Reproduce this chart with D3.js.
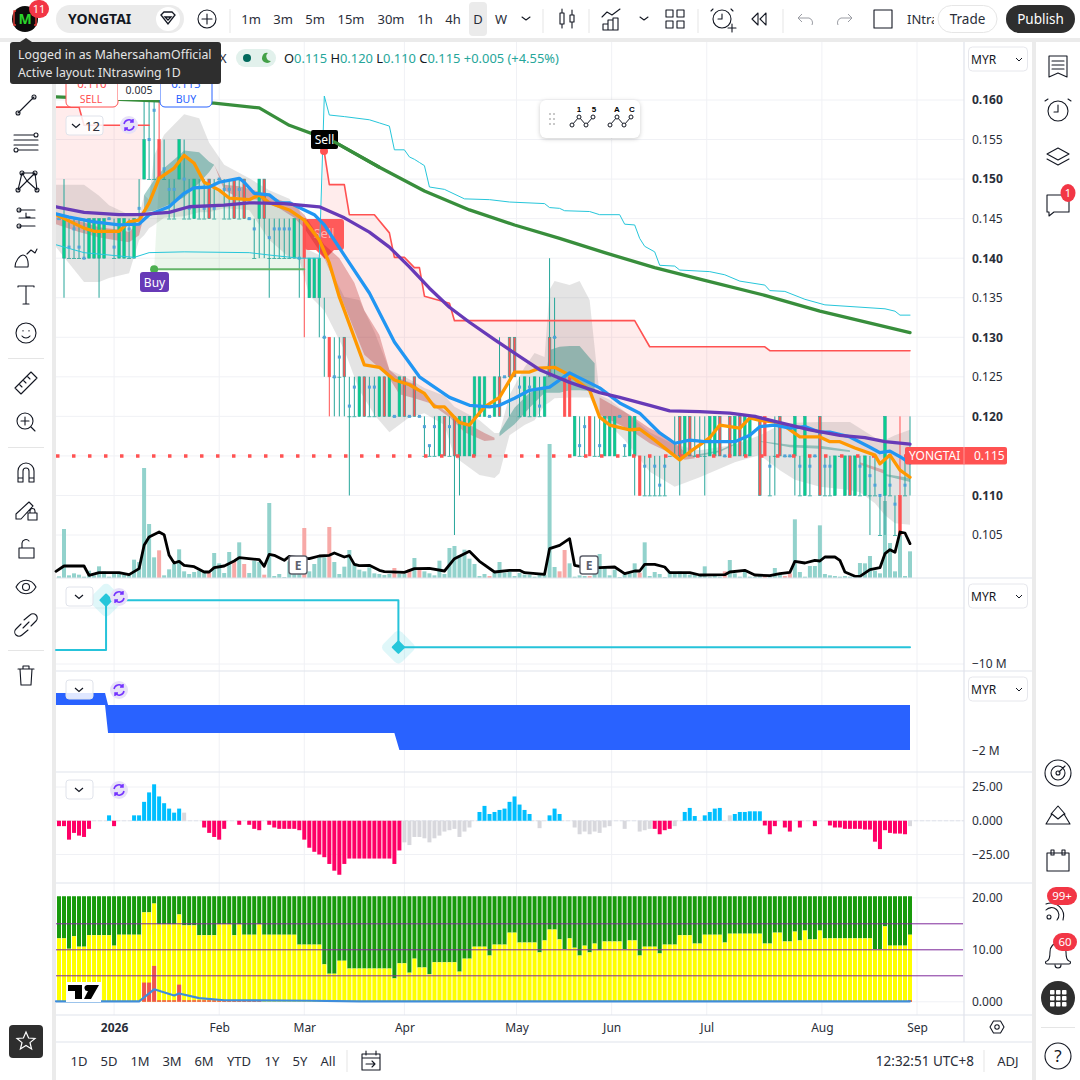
<!DOCTYPE html>
<html lang="en">
<head>
<meta charset="UTF-8">
<title>YONGTAI 1D</title>
<script src="https://cdnjs.cloudflare.com/ajax/libs/d3/7.8.5/d3.min.js"></script>
<style>
  html, body { margin: 0; padding: 0; background: #fff; overflow: hidden; }
  svg { display: block; font-family: "Noto Sans", "Open Sans", sans-serif; }
  .axis .domain, .axis line { display: none; }
  .axis text { font-family: "Noto Sans", sans-serif; font-size: 12px; fill: #2a2e39; }
</style>
</head>
<body>
<div id="chart"></div>
<script>
// prices are in thousandths of a ringgit, bar index 0 is the first bar on the left
const highs = [
  145,150,145,145,145,145,145,145,145,145, 145,145,145,145,145,145,150,160,160,160,
  160,155,150,150,155,155,150,150,150,150, 150,150,150,150,150,150,150,150,145,145,
  150,150,145,145,145,145,145,145,145,145, 140,140,140,135,130,130,130,130,125,125,
  125,125,125,125,125,125,125,120,125,125, 120,125,120,120,116.3,120,120,120,120,120,
  120,120,120,125,125,125,120,125,130,125, 130,130,125,125,125,125,125,125,140,135,
  125,125,125,120,120,120,120,120,120,120, 120,120,120,116.3,120,120,115,115,115,115,
  115,115,115,120,120,120,120,120,120,120, 120,120,120,115,120,120,120,120,120,120,
  120,120,115,120,120,115,115,120,115,120, 115,115,120,115,115,115,115,115,115,115,
  115,115,115,115,110,120,115,110,120,115, 120];
const lows = [
  145,135,140,140,140,140,140,140,135,140, 145,140,140,140,140,140,145,150,150,150,
  150,150,145,145,150,145,145,145,145,145, 145,145,150,145,145,145,145,145,145,140,
  140,140,135,140,140,140,140,140,135,130, 135,135,130,125,120,120,120,120,110,120,
  120,120,120,120,120,120,120,120,120,120, 120,120,120,115,115,115,115,115,115,105,
  110,115,115,115,120,120,120,120,120,125, 120,125,120,120,120,120,120,120,125,125,
  125,120,120,115,115,115,115,115,115,115, 115,115,120,115,115,110,110,110,110,110,
  110,110,115,115,110,115,115,115,115,110, 115,115,115,115,115,115,115,115,115,120,
  110,115,110,110,115,115,115,110,110,110, 110,115,110,110,110,110,115,110,110,110,
  110,110,105,110,105,105,110,105,105,110, 110];
const opens = [
  145,140,140,140,140,140,140,140,140,140, 145,140,140,140,140,140,145,150,150,150,
  155,150,145,145,150,145,145,145,145,145, 150,145,150,145,145,150,145,150,145,140,
  145,150,140,140,140,140,140,140,140,145, 135,135,135,130,130,125,125,130,120,120,
  120,125,120,120,120,125,120,120,120,125, 120,125,120,115,115,115,115,120,115,120,
  115,115,115,115,120,120,120,120,125,125, 130,130,120,120,120,120,120,120,130,130,
  125,125,125,115,115,115,120,115,115,115, 115,115,120,115,115,115,115,110,110,110,
  110,110,115,115,120,115,120,115,115,115, 115,115,120,115,120,115,120,115,115,120,
  120,120,110,115,120,115,115,115,110,110, 110,115,120,110,110,110,115,110,115,110,
  110,110,110,110,105,110,110,105,110,110, 115];
const closes = [
  145,145,140,140,140,140,145,145,145,145, 145,140,145,145,140,145,145,155,150,150,
  150,150,145,145,155,145,145,150,145,145, 145,145,150,145,145,145,145,145,145,140,
  150,145,140,140,140,140,140,145,140,140, 140,140,140,130,125,125,125,125,120,120,
  125,120,120,120,125,120,125,120,125,120, 120,120,120,115,115,115,120,115,115,115,
  120,120,120,125,125,125,120,125,120,125, 125,125,120,125,120,125,120,125,125,130,
  125,120,120,120,115,115,115,115,115,120, 120,120,120,115,120,120,110,110,110,110,
  110,110,115,115,115,120,115,115,115,115, 120,120,115,115,115,120,115,120,120,120,
  110,115,110,115,115,115,115,120,110,120, 110,115,110,110,110,115,115,115,110,115,
  110,115,110,110,105,120,110,105,105,110, 115];
const n = null;
const dotValues = [
  145,n,141.4,143.7,141.4,140,n,n,n,n, 145,141.4,n,n,143.7,n,146.3,n,155,158.7,
  n,151.3,148.7,148.7,n,150,146.3,n,n,146.3, n,146.3,150,148.7,148.7,n,148.7,n,145,143.7,
  n,n,142.6,143.7,143.7,143.7,143.7,n,140,n, n,n,n,130,n,125,127.5,n,121.3,123.7,
  n,n,123.7,123.7,n,n,n,120,n,n, 120,n,120,118.7,116.3,118.7,n,n,118.7,n,
  n,n,n,n,n,n,120,n,n,125, n,n,123.7,n,123.7,n,121.3,n,n,130,
  n,n,n,n,116.3,118.7,n,n,116.3,n, n,n,120,116.3,n,n,n,113.7,n,113.7,
  111.3,113.7,n,n,n,n,n,n,n,n, n,n,n,115,n,n,n,n,n,120,
  n,n,113.7,n,n,115,115,n,113.7,n, 113.7,115,n,113.7,113.7,n,n,n,n,n,
  113.7,n,112.5,111.3,110,n,111.3,108.9,n,111.3, n];
// red candles drawn without the teal edge
const plainRed = [20,49,54,101,102,106,116,141,168];
const lastPrice = 115;

// volume in chart units, the red ones are listed by bar
const volumes = [
  5,147,8,14,10,4,22,8,35,20, 4,15,12,10,12,55,48,330,162,62,
  83,8,26,42,86,20,12,18,22,22, 15,75,44,15,78,50,107,42,15,52,
  48,10,225,6,12,3,50,30,25,150, 20,42,62,62,153,48,12,34,84,45,
  25,20,32,14,12,9,12,30,12,12, 26,60,26,20,14,8,52,12,90,96,
  68,85,58,42,6,12,6,15,48,16, 18,6,15,10,10,4,10,10,402,33,
  20,84,44,4,8,6,6,14,72,30, 8,25,3,12,14,44,16,107,6,18,
  12,3,20,15,20,15,10,10,6,35, 4,6,4,20,54,14,4,20,4,4,
  8,6,8,30,14,6,14,176,18,4, 36,36,158,12,8,6,4,6,4,8,
  45,44,66,22,14,231,105,20,135,6, 80];
const volumeDown = [20,30,35,37,41,49,54,67,70,72,86,100,101,106,116,133,141,145,146];
const volMaIdx = [-0.6,1,5,6,8,12,14,16,17,18,20,21,22,23,24,25,27,29,30,31,33,35,36,40,41,42,43,45,46,48,50,52,54,55,57,58,59,60,62,64,65,69,71,74,77,79,82,84,87,90,92,93,97,98,100,102,103,104,108,111,113,115,116,117,119,121,122,126,128,133,134,137,139,142,144,146,147,149,151,152,153,155,156,157,159,160,162,164,165,166,167,168,169,170];
const volMaVal = [20,36,36,8,16,16,10,28,98,123,138,130,68,45,50,38,34,18,18,31,36,51,61,55,35,71,68,53,65,60,58,66,68,75,63,67,41,37,38,23,19,17,28,29,21,58,80,50,18,23,23,16,11,88,98,118,38,35,31,33,13,21,21,41,41,33,16,16,9,10,18,23,9,7,13,17,50,45,53,51,63,63,53,18,5,5,25,31,73,85,77,138,135,103];

// overlay lines
const maLongIdx = [-0.6,31,40,46,55,64,73,82,91,100,109,119,129,141,152,170];
const maLongVal = [160.4,159.6,159,156.8,154.7,151.5,148.5,146.1,144.2,142.5,140.7,138.8,137.2,135.3,133.3,130.6];
const trailIdx = [-0.6,5,15,18,25,38,42,48,52,53,54,57,62,64,66,67,69,70,71,72,73,74,77,81,86,90,97,98,100,101,106,108,112,113,115,116,117,119,120,123,124,130,133,136,141,142,145,149,153,165,167,168,170];
const trailVal = [141.7,140.7,140.1,140.7,140.8,140.7,140.4,140,140,160.5,158.1,157.9,157.5,157.1,156.7,153.7,153.7,152.8,152.5,152.1,151.7,149,148.7,147.5,147.4,147.1,146.9,146.4,146.3,146,145.9,145.5,145.5,144.3,144.2,142.5,141.5,140.8,139.1,139,138.5,138.3,137.9,137.1,136.6,135.9,135.8,134.8,134.1,133.6,133.3,132.8,132.8];
const purpleIdx = [-0.6,5,12,16,22,26,33,38,45,52,57,62,66,70,74,78,82,87,91,96,102,108,112,118,122,128,134,139,144,150,156,161,165,170];
const purpleVal = [146.5,145.8,145.5,145.5,145.8,146.5,146.7,147,146.9,146.5,145.1,143.3,141.4,138.9,136.2,133.8,131.9,129.7,128,125.9,124.3,123,122.4,121.4,120.7,120.6,120.4,120,119.2,118.3,117.6,117.3,116.8,116.5];
const blueIdx = [-0.6,2,7,12,16,18,22,25,27,30,32,36,37,39,42,44,46,51,53,58,62,67,72,78,82,86,88,91,94,98,102,108,112,116,120,123,126,129,135,138,140,143,146,149,152,154,158,162,164,166,168,170];
const blueVal = [145.6,145.2,144.6,144.2,144.3,145.5,146.5,148.2,148.9,149,149.6,150.1,149.6,148.2,148,147,147,145.5,144.2,139.4,135.6,129.4,125,122.4,121.4,121.2,121.4,122.3,123.3,123.7,125.5,123.6,121.7,120.4,117.9,116.6,117,116.8,116.8,117.6,118.7,118.9,118.5,118.7,118,118,117.4,116.1,115.4,115.6,114.9,114.1];
const orangeIdx = [-0.6,3,5,7,12,14,16,18,20,23,25,27,29,32,34,38,40,42,46,49,52,54,56,57,61,64,67,70,73,75,77,80,82,85,88,91,94,96,99,102,106,108,110,114,116,119,124,126,128,130,132,136,138,140,144,148,152,154,156,159,163,164,166,168,170];
const orangeVal = [145.5,144.4,143.8,143.4,143.4,144.6,144.8,147,150.1,151.4,153,152,149.6,148.6,147.6,147.4,148,147,146.1,144.8,142.3,139.4,135.1,133.4,126.5,126.2,124.6,124,122.9,121.2,121.2,119.2,118.9,121.2,122.4,125.6,125.6,126.1,126.2,125.2,123.3,119.9,118.9,118.3,118.4,117,114.5,115.5,116.4,117.3,118.9,118.5,119.8,119.5,119.2,117.4,117.4,116.8,116.8,116,115.1,114,115.1,113.2,112.3];

// stop lines
const stopLeftIdx = [-0.6,4,5,18];
const stopLeftVal = [159.1,159.1,156.8,156.8];
const stopRightIdx = [53,54,57,58,63,66,67,69,71,72,73,78,79,115,118,141,142,170];
const stopRightVal = [153.4,149.3,149.3,145.5,145.5,143.2,140.1,140.1,138.8,138.8,135.2,134.3,132.1,132.1,128.8,128.8,128.3,128.3];
const buyStopIdx = [19,49];
const buyStopVal = [138.6,138.6];

// grey band
const cloudIdx = [-0.6,5,8,10,14,16,17,18,19,21,25,28,30,33,38,42,46,48,50,53,57,60,63,66,70,73,77,79,84,87,88,90,93,95,97,98,99,102,104,106,108,110,113,118,123,128,135,140,144,147,152,158,160,163,165,167,170];
const cloudHi = [149.3,149.3,147.9,146.7,145.5,145.2,148,147.4,153,155.6,158.2,157.7,154.6,151.8,150.1,148.6,147.5,146.1,141,140.1,135.1,134.7,130.7,125.9,124.7,123.6,122.6,121.2,119.5,117.9,117.9,122.7,126.2,128,127.5,136,137.1,136.6,137.1,134.7,122.7,122.1,120.6,118,116.4,115.7,116.4,117.6,118.9,119.2,119.3,119.3,118.5,117.3,117,117.6,118.3];
const cloudLo = [141.4,137,137,137.5,138.1,142.3,142.9,143.8,144.2,145.1,145.3,145.8,145.8,146.3,146.1,142.3,140.1,139.8,135.3,133.4,128.4,123.3,120.2,118,119.9,120.4,118.9,114.9,112.6,112.2,112.8,117.6,118.9,119.5,121.4,121.8,122.3,122.4,122.4,122.4,120.2,118.9,117,113,111.1,112.3,114.2,115.1,113.2,112,111.1,110.7,110.4,109,107.5,106.5,106.3];

// ribbon pieces as [bar, top, bottom]
const ribbonDown = [
  [[-0.6,145.2,144.3],[4,144.7,143.3],[8,143.9,142.6],[12,143.6,142.2],[14,143.3,142],[16,144.6,142.9],[17,145.5,145.5]],
  [[31,151.8,151.8],[33,149.3,148.6],[36,149.1,147.6],[40,148.4,147.4],[44,147.4,146.3],[47,146.7,145.1],[49,145.5,143.8],[53,141.7,140],[56,140,135.6],[59,136.9,130.9],[61,133.4,127.8],[64,130.3,126.1],[66,125.9,124.8],[68,124.8,122.8],[71,124.1,122.3],[74,122.1,121.7],[78,120.3,119.9],[81,119.3,118],[85,117.9,116.9],[87,117.3,117]],
  [[108,122.4,120.2],[114,120.2,118.3],[118,118.5,116.6],[122,117.3,115.4],[125,115.5,114.5],[127,115,114.7]],
  [[160,114.2,113.9],[165,113.2,112.7]]
];
const ribbonUp = [
  [[17,148,145.8],[19,149.9,146],[21,151.4,146.5],[24,153,147.4],[25,153.6,147.7],[28,153.4,149.5],[30,152.2,150.9],[31,151.8,151.8]],
  [[88,118,117.5],[91,121.1,119],[94,123,121.1],[97,123.7,123],[98,128.4,123],[100,128.8,123],[102,128.9,123.3],[104,128.9,123.3],[106,127.4,123.2],[107,126.7,123.1]],
  [[127,115.1,114.9],[132,115.7,115.5],[135,116.6,116.4]],
  [[140,116.9,116.8],[146,116.4,116.1],[152,116.3,115.9],[158,115.7,115.5]],
  [[165,112.7,112.5],[170,112.2,111.7]]
];

// lower panes
const flowIdx = [-0.6,9.4,9.4,67.8,67.8,170];
const flowVal = [-7.5,-7.5,1.4,1.4,-7,-7];
const flowMarks = [[9.4,1.4],[67.8,-7]];
const netIdx = [-0.6,9.2,9.8,67,68,170];
const netHi = [0.52,0.52,0,0,0,0];
const netLo = [0,0,-1.22,-1.22,-1.96,-1.96];
const histValues = [
  -4,-4,-14,-9,-11,-12,-6,0,0,0, 4,-4,0,0,0,4,4,14,21,27,
  18,13,9,6,9,6,0,0,0,-5, -9,-12,-14,-6,0,0,-3,0,-3,-6,
  -7,0,-3,-5,-6,-6,-6,-6,-7,-14, -20,-23,-25,-27,-32,-37,-40,-32,-28,-28,
  -28,-28,-28,-28,-28,-28,-28,-32,-22,-16, -18,-12,-12,-13,-16,-13,-11,-8,-7,-6,
  -12,-8,-5,0,6.5,11,5,6.5,8,9, 14,18,12,8,5,0,-5.5,0,4,9,
  5,0,0,-5,-10,-8,-10,-8,-9,-5, -4,0,0,-6,0,0,-8,-7,-6,-6,
  -10,-7,-6,-4,0,6.5,9.5,3.5,0,4, 6.5,9,9.5,0,4,5,6.5,6.5,7,7,
  7,-3.5,-10,-4,0,-5,-8,0,-5,0, 0,-4,0,0,-3.5,-5,-5,-6,-6,-6,
  -6,-6.5,-6.5,-15.5,-21,-7,-9,-9.5,-9.5,-10, -4];
const histFlat = [25,69,70,71,72,73,74,75,76,77,78,79,80,81,82,96,103,104,105,106,107,108,109,110,113,116,117,118,123,134,170];
const stackTop = 20.3;
const yellowValues = [
  12.2,12.2,10.2,12.6,10.6,10.6,12.8,12.8,12.8,12.8, 12.8,10.8,12.9,12.9,12.9,12.9,12.9,17.2,17.2,18.9,
  14.9,14.9,14.9,14.9,16.8,14.7,14.7,14.7,12.8,12.8, 12.8,12.8,14.9,14.9,14.9,12.8,14.9,12.9,12.9,12.9,
  14.9,12.9,12.9,12.9,12.9,12.9,12.9,12.9,11,11, 11,11,11,7.2,5.4,5.4,7.9,7.9,6.4,6.4,
  6.4,6.4,6.4,6.4,6.4,6.4,6.4,4.5,7.4,7.4, 5.6,8.3,6.6,6.6,5.3,7.6,7.6,7.6,7.6,7.6,
  5.8,8.3,8.3,10.6,10.6,10.6,8.9,11,11,11, 13.3,13.3,11.4,11.4,11.4,11.4,9.5,11.8,13.9,13.9,
  12,10.1,12.2,10.4,8.9,10.8,9.5,11.2,9.9,11.6, 11.6,11.6,11.6,10.1,11.8,11.8,8.9,10.6,10.6,10.6,
  9.3,11,11,11,12.8,12.8,12.8,11.2,11.2,12.9, 12.9,12.9,12.9,11.4,13.1,13.1,13.1,13.1,13.1,13.1,
  13.1,11.2,11.2,13.3,13.3,11.6,11.6,13.5,11.8,13.7, 12,12,13.7,12.2,12.2,12.2,12.2,12.2,12.2,12.2,
  12.2,12.2,12.2,10.1,10.1,14.5,10.8,10.8,10.8,10.8, 12.9];
const lowBarIdx = [17,18,19,20,21,22,23,24,25,26,27,28,29,30,31,32,33,34,35,36,37,38,39,40,170];
const lowBarVal = [3.7,3.7,6.9,.3,.3,.3,.3,3.3,.3,.3,.3,.3,.3,.3,.3,.3,.3,.3,.3,.3,.3,.3,.3,.3,.3];
const stackLineIdx = [-0.6,16,19,23,24,28,33,50,60,170];
const stackLineVal = [.1,.1,2.4,1.2,1.6,.7,.3,.2,.1,.1];
const stackLevels = [15,10,5];

// axes
const priceTicks = [160,155,150,145,140,135,130,125,120,115,110,105];
const histTicks = [25,0,-25];
const stackTicks = [20,10,0];
const monthBars = [11,32,49,69,91.4,110.4,129.4,152.4,171.4];
const monthNames = ["2026","Feb","Mar","Apr","May","Jun","Jul","Aug","Sep"];
const frames = ["1m","3m","5m","15m","30m","1h","4h","D","W"];
const frameX = [251,283,315,351,391,425,453,478,501];
const ranges = ["1D","5D","1M","3M","6M","YTD","1Y","5Y","All"];
const rangeX = [79,109,140,172,204,239,272,300,328];

const svg = d3.select("#chart").append("svg").attr("width", 1080).attr("height", 1080);

const x = d3.scaleLinear().domain([0, 170]).range([59, 910]);
const yPrice = d3.scaleLinear().domain([105, 160]).range([535, 100]);
const yVolume = d3.scaleLinear().domain([0, 300]).range([578, 478]);
const yFlow = d3.scaleLinear().domain([-10, 0]).range([664, 608]);
const yNet = d3.scaleLinear().domain([-2, 0]).range([751, 705]);
const yHist = d3.scaleLinear().domain([-25, 25]).range([854.5, 787]);
const yStack = d3.scaleLinear().domain([0, 20]).range([1001.8, 897.8]);

const bars = d3.range(171);
const lineGen = d3.line();
const pts = (idx, val, y) => idx.map((i, k) => [x(i), y(val[k])]);

const defs = svg.append("defs");
defs.append("clipPath").attr("id", "plot").append("rect").attr("x", 56).attr("y", 42).attr("width", 908).attr("height", 536);

// frame
const GUTTER = "#ebebeb", LINE = "#e0e3eb", GRID = "#f0f1f5", INK = "#131722";
svg.append("rect").attr("x", 0).attr("y", 38).attr("width", 1080).attr("height", 4).attr("fill", GUTTER);
svg.append("rect").attr("x", 52).attr("y", 38).attr("width", 4).attr("height", 1042).attr("fill", GUTTER);
svg.append("rect").attr("x", 1032).attr("y", 38).attr("width", 4).attr("height", 1042).attr("fill", GUTTER);

// grid
const grid = svg.append("g").attr("stroke", GRID).attr("stroke-width", 1);
grid.selectAll(".v").data(monthBars).enter().append("line")
  .attr("x1", d => x(d)).attr("x2", d => x(d)).attr("y1", 42).attr("y2", 1015);
const hLine = (vals, y) => grid.selectAll(null).data(vals).enter().append("line")
  .attr("x1", 56).attr("x2", 964).attr("y1", d => y(d)).attr("y2", d => y(d));
hLine(priceTicks, yPrice);
hLine([-10, 0], yFlow);
hLine(histTicks, yHist);
hLine(stackTicks, yStack);

// volume
svg.append("g").selectAll("rect").data(bars).enter().append("rect")
  .attr("x", i => x(i) - 2).attr("width", 4)
  .attr("y", i => yVolume(volumes[i])).attr("height", i => 578 - yVolume(volumes[i]))
  .attr("fill", i => volumeDown.includes(i) ? "#f7a9a7" : "#92d2cc");

const main = svg.append("g").attr("clip-path", "url(#plot)");

// pink and green stop fills, bounded by the fast line
const orangePts = pts(orangeIdx, orangeVal, yPrice);
const between = (a, b) => orangePts.filter((p, k) => orangeIdx[k] >= a && orangeIdx[k] <= b).reverse();
main.append("path").attr("fill", "rgba(255,82,82,.11)")
  .attr("d", lineGen(pts(stopLeftIdx.slice(0, 3).concat([17]), stopLeftVal, yPrice).concat(between(-1, 17))) + "Z");
main.append("path").attr("fill", "rgba(255,82,82,.11)")
  .attr("d", lineGen(pts(stopRightIdx, stopRightVal, yPrice).concat(between(52, 170))) + "Z");
main.append("path").attr("fill", "rgba(76,175,80,.11)")
  .attr("d", lineGen(pts(buyStopIdx, buyStopVal, yPrice).concat(between(19, 49))) + "Z");

// grey band and ribbon
const bandGen = d3.area().x(d => x(d[0])).y0(d => yPrice(d[2])).y1(d => yPrice(d[1]));
main.append("path").attr("fill", "rgba(120,120,120,.2)")
  .attr("d", bandGen(cloudIdx.map((i, k) => [i, cloudHi[k], cloudLo[k]])));

// big sell flag sits under the ribbon and lines
main.append("path").attr("fill", "#ff5252").attr("fill-opacity", .95)
  .attr("d", "M305 222q0-3 3-3h33q3 0 3 3v25q0 3-3 3h-7l-9 9-9-9h-8q-3 0-3-3z");
main.append("text").attr("x", 324).attr("y", 238).attr("text-anchor", "middle").attr("fill", "#ffb0b0").attr("font-size", 13).text("Sell");

main.append("g").selectAll("path").data(ribbonDown).enter().append("path")
  .attr("fill", "rgba(183,28,28,.3)").attr("d", bandGen);
main.append("g").selectAll("path").data(ribbonUp).enter().append("path")
  .attr("fill", "rgba(0,121,107,.36)").attr("d", bandGen);

// candles
const isDown = i => closes[i] < opens[i];
const TEAL = "#26a69a", RED = "#ff5252";
main.append("g").selectAll("line").data(bars).enter().append("line")
  .attr("x1", i => x(i)).attr("x2", i => x(i))
  .attr("y1", i => yPrice(highs[i])).attr("y2", i => yPrice(lows[i]))
  .attr("stroke", i => plainRed.includes(i) ? RED : TEAL).attr("stroke-width", 1);
main.append("g").selectAll("rect").data(bars).enter().append("rect")
  .attr("x", i => x(i) - (closes[i] === opens[i] ? 2 : 1.3))
  .attr("width", i => closes[i] === opens[i] ? 4 : 2.6)
  .attr("y", i => yPrice(Math.max(opens[i], closes[i])))
  .attr("height", i => closes[i] === opens[i] ? 0.8 : yPrice(Math.min(opens[i], closes[i])) - yPrice(Math.max(opens[i], closes[i])))
  .attr("fill", i => closes[i] === opens[i] ? TEAL : isDown(i) ? RED : "#08cf8c")
  .attr("stroke", i => closes[i] === opens[i] ? "none" : plainRed.includes(i) ? RED : TEAL)
  .attr("stroke-width", .6);
main.append("g").selectAll("rect").data(bars.filter(i => dotValues[i] !== null)).enter().append("rect")
  .attr("x", i => x(i) - 1.5).attr("y", i => yPrice(dotValues[i]) - 1.5).attr("width", 3).attr("height", 3)
  .attr("fill", "#4fa3d8");

// last price dots
main.append("line").attr("x1", 56).attr("x2", 905).attr("y1", yPrice(lastPrice)).attr("y2", yPrice(lastPrice))
  .attr("stroke", RED).attr("stroke-width", 3.5).attr("stroke-dasharray", "3.5 12.5");

// thin and stop lines
const drawLine = (sel, p, color, w) => sel.append("path").attr("fill", "none").attr("stroke", color)
  .attr("stroke-width", w).attr("stroke-linejoin", "round").attr("stroke-linecap", "round").attr("d", lineGen(p));
drawLine(main, pts(stopLeftIdx, stopLeftVal, yPrice), RED, 1.6);
drawLine(main, pts(stopRightIdx, stopRightVal, yPrice), RED, 1.6);
drawLine(main, pts(buyStopIdx, buyStopVal, yPrice), "#66b56a", 2);
drawLine(main, pts(trailIdx, trailVal, yPrice), "#26c6da", 1);
drawLine(main, pts(orangeIdx, orangeVal, yPrice), "#ff9800", 3.3);
drawLine(main, pts(blueIdx, blueVal, yPrice), "#2196f3", 3.3);
drawLine(main, pts(purpleIdx, purpleVal, yPrice), "#673ab7", 3.3);
drawLine(main, pts(maLongIdx, maLongVal, yPrice), "#388e3c", 3.3);

// volume average
drawLine(svg, pts(volMaIdx, volMaVal, yVolume), "#000", 2.8);

// markers on the price pane
svg.append("circle").attr("cx", x(buyStopIdx[0])).attr("cy", yPrice(buyStopVal[0])).attr("r", 4).attr("fill", "#4caf50");
svg.append("rect").attr("x", 140).attr("y", 272).attr("width", 29).attr("height", 20).attr("rx", 3).attr("fill", "#673ab7");
svg.append("text").attr("x", 154.5).attr("y", 286.5).attr("text-anchor", "middle").attr("fill", "#fff").attr("font-size", 12).text("Buy");
svg.append("circle").attr("cx", 324).attr("cy", 151).attr("r", 4).attr("fill", RED);
svg.append("rect").attr("x", 311).attr("y", 130).attr("width", 27).attr("height", 19).attr("rx", 2).attr("fill", "#000");
svg.append("text").attr("x", 324.5).attr("y", 144).attr("text-anchor", "middle").attr("fill", "#fff").attr("font-size", 12).text("Sell");
drawLine(svg, pts(maLongIdx.slice(4, 6), maLongVal.slice(4, 6), yPrice), "#388e3c", 3.3);

// earnings badges
[298, 589].forEach(cx => {
  svg.append("rect").attr("x", cx - 9).attr("y", 556).attr("width", 18).attr("height", 18).attr("rx", 2.5)
    .attr("fill", "#fff").attr("stroke", "#5d606b").attr("stroke-width", 1.4);
  svg.append("text").attr("x", cx).attr("y", 569.5).attr("text-anchor", "middle").attr("font-size", 12).attr("font-weight", 700).attr("fill", "#5d606b").text("E");
});

// flow step line
drawLine(svg, pts(flowIdx, flowVal, yFlow), "#26c3da", 2);
flowMarks.forEach(d => {
  const g = svg.append("g").attr("transform", `translate(${x(d[0])},${yFlow(d[1])})`);
  g.append("rect").attr("x", -13).attr("y", -13).attr("width", 26).attr("height", 26).attr("rx", 5).attr("transform", "rotate(45)").attr("fill", "rgba(38,198,218,.15)");
  g.append("rect").attr("x", -5).attr("y", -5).attr("width", 10).attr("height", 10).attr("rx", 1).attr("transform", "rotate(45)").attr("fill", "#26c6da");
});

// blue band
svg.append("path").attr("fill", "#2962ff")
  .attr("d", d3.area().x(d => x(d[0])).y0(d => yNet(d[2])).y1(d => yNet(d[1]))(netIdx.map((i, k) => [i, netHi[k], netLo[k]])));

// histogram
svg.append("line").attr("x1", 56).attr("x2", 964).attr("y1", yHist(0)).attr("y2", yHist(0))
  .attr("stroke", "#e0e3eb").attr("stroke-width", 1).attr("stroke-dasharray", "4 2");
const histColor = i => histValues[i] > 0 && !histFlat.includes(i) ? "#00bfff" : histFlat.includes(i) ? "#d8d8dd" : "#ff0066";
svg.append("g").selectAll("rect").data(bars.filter(i => histValues[i] !== 0)).enter().append("rect")
  .attr("x", i => x(i) - 2).attr("width", 4)
  .attr("y", i => Math.min(yHist(histValues[i]), yHist(0)))
  .attr("height", i => Math.abs(yHist(histValues[i]) - yHist(0)))
  .attr("fill", histColor);

// stacked bars
svg.append("g").selectAll("rect").data(bars).enter().append("rect")
  .attr("x", i => x(i) - 2).attr("width", 4)
  .attr("y", yStack(stackTop)).attr("height", i => yStack(yellowValues[i]) - yStack(stackTop))
  .attr("fill", "#189a0b");
svg.append("g").selectAll("rect").data(bars).enter().append("rect")
  .attr("x", i => x(i) - 2).attr("width", 4)
  .attr("y", i => yStack(yellowValues[i])).attr("height", i => yStack(0) - yStack(yellowValues[i]))
  .attr("fill", "#ffff00");
svg.append("g").selectAll("rect").data(lowBarIdx).enter().append("rect")
  .attr("x", i => x(i) - 2).attr("width", 4)
  .attr("y", (i, k) => yStack(lowBarVal[k])).attr("height", (i, k) => yStack(0) - yStack(lowBarVal[k]))
  .attr("fill", "#ef5350");
svg.append("g").selectAll("line").data(stackLevels).enter().append("line")
  .attr("x1", 56).attr("x2", 963).attr("y1", d => yStack(d)).attr("y2", d => yStack(d))
  .attr("stroke", "#7f2a9c").attr("stroke-width", 1);
drawLine(svg, pts(stackLineIdx, stackLineVal, yStack), "#3f8ddb", 2.2);

// tradingview mark
svg.append("rect").attr("x", 66).attr("y", 982).attr("width", 35).attr("height", 20).attr("fill", "#fff");
svg.append("path").attr("fill", "#000").attr("d", "M68 985h14v14h-7v-8h-7zM87 985h12l-8 14h-7l4-8a3 3 0 0 1-1-6z");

// separators
svg.append("g").selectAll("line").data([578, 671, 772, 883, 1015, 1042]).enter().append("line")
  .attr("x1", 56).attr("x2", 1032).attr("y1", d => d).attr("y2", d => d)
  .attr("stroke", LINE).attr("stroke-width", 1.2);
svg.append("line").attr("x1", 964).attr("x2", 964).attr("y1", 42).attr("y2", 1042).attr("stroke", LINE).attr("stroke-width", 1.2);

// price axis
const priceAxis = svg.append("g").attr("class", "axis").attr("transform", "translate(964,0)")
  .call(d3.axisRight(yPrice).tickValues(priceTicks).tickSize(0).tickPadding(8).tickFormat(d => (d / 1000).toFixed(3)));
priceAxis.selectAll("text").style("font-weight", d => d % 10 === 0 ? 700 : 400);

const signed = s => s.replace("-", "\u2212");
svg.append("g").attr("class", "axis").attr("transform", "translate(964,0)")
  .call(d3.axisRight(yFlow).tickValues([-10]).tickSize(0).tickPadding(8).tickFormat(d => signed(d + " M")));
svg.append("g").attr("class", "axis").attr("transform", "translate(964,0)")
  .call(d3.axisRight(yNet).tickValues([-2]).tickSize(0).tickPadding(8).tickFormat(d => signed(d + " M")));
svg.append("g").attr("class", "axis").attr("transform", "translate(964,0)")
  .call(d3.axisRight(yHist).tickValues(histTicks).tickSize(0).tickPadding(8).tickFormat(d => d === 0 ? "0.000" : signed(d3.format(".2f")(d))));
svg.append("g").attr("class", "axis").attr("transform", "translate(964,0)")
  .call(d3.axisRight(yStack).tickValues(stackTicks).tickSize(0).tickPadding(8).tickFormat(d => d === 0 ? "0.000" : d3.format(".2f")(d)));

// time axis
const timeAxis = svg.append("g").attr("class", "axis").attr("transform", "translate(0,1015)")
  .call(d3.axisBottom(x).tickValues(monthBars).tickSize(0).tickPadding(8).tickFormat((d, k) => monthNames[k]));
timeAxis.selectAll("text").style("font-weight", (d, k) => k === 0 ? 700 : 400);

// last price label
svg.append("rect").attr("x", 905).attr("y", 447).attr("width", 102).attr("height", 17.5).attr("rx", 2).attr("fill", RED);
svg.append("text").attr("x", 909).attr("y", 460).attr("fill", "#fff").attr("font-size", 12).text("YONGTAI");
svg.append("line").attr("x1", 964).attr("x2", 964).attr("y1", 447).attr("y2", 464).attr("stroke", "#ff9a9a");
svg.append("text").attr("x", 974).attr("y", 460).attr("fill", "#fff").attr("font-size", 12).text((lastPrice / 1000).toFixed(3));

// currency pills
[47, 584, 677].forEach(top => {
  svg.append("rect").attr("x", 968.5).attr("y", top).attr("width", 59).attr("height", 24).attr("rx", 4).attr("fill", "#fff").attr("stroke", "#e6e7ec");
  svg.append("text").attr("x", 971).attr("y", top + 16.5).attr("font-size", 12).attr("fill", INK).text("MYR");
  svg.append("path").attr("d", `M1016 ${top + 11}l3 3 3-3`).attr("fill", "none").attr("stroke", INK);
});

// pane buttons
const syncIcon = (cx, cy) => {
  const g = svg.append("g").attr("transform", `translate(${cx},${cy})`);
  g.append("circle").attr("r", 9).attr("fill", "#e7e2f7");
  g.append("path").attr("fill", "none").attr("stroke", "#7433ff").attr("stroke-width", 1.5)
    .attr("d", "M-5 -1a5 5 0 0 1 9-2M5 1a5 5 0 0 1-9 2M4 -6v3h-3M-4 6v-3h3");
};
const chevButton = (bx, by, w, h) => {
  svg.append("rect").attr("x", bx).attr("y", by).attr("width", w).attr("height", h).attr("rx", 3).attr("fill", "#fff").attr("fill-opacity", .85).attr("stroke", "#e0e3eb");
};
[[587, 597], [680, 690], [780, 790]].forEach(d => {
  chevButton(66, d[0], 27, 19);
  svg.append("path").attr("d", `M75 ${d[0] + 8}l4 3.5 4-3.5`).attr("fill", "none").attr("stroke", INK).attr("stroke-width", 1.2);
  syncIcon(119, d[1]);
});
chevButton(66, 116, 37, 19);
svg.append("path").attr("d", "M72 124l4 3.5 4-3.5").attr("fill", "none").attr("stroke", INK).attr("stroke-width", 1.2);
svg.append("text").attr("x", 85).attr("y", 130.5).attr("font-size", 13).attr("fill", "#2a2e39").text("12");
syncIcon(129, 125);

// buy sell buttons
svg.append("rect").attr("x", 66).attr("y", 72).attr("width", 52).attr("height", 35).attr("rx", 5).attr("fill", "#fff").attr("stroke", RED);
svg.append("rect").attr("x", 160).attr("y", 72).attr("width", 52).attr("height", 35).attr("rx", 5).attr("fill", "#fff").attr("stroke", "#2962ff");
svg.append("text").attr("x", 92).attr("y", 88).attr("text-anchor", "middle").attr("font-size", 11.5).attr("fill", RED).text("0.110");
svg.append("text").attr("x", 91).attr("y", 102.5).attr("text-anchor", "middle").attr("font-size", 10.5).attr("fill", RED).text("SELL");
svg.append("text").attr("x", 186).attr("y", 88).attr("text-anchor", "middle").attr("font-size", 11.5).attr("fill", "#2962ff").text("0.115");
svg.append("text").attr("x", 186).attr("y", 102.5).attr("text-anchor", "middle").attr("font-size", 10.5).attr("fill", "#2962ff").text("BUY");
svg.append("rect").attr("x", 118).attr("y", 80).attr("width", 42).attr("height", 20).attr("fill", "#fff");
svg.append("text").attr("x", 139).attr("y", 94).attr("text-anchor", "middle").attr("font-size", 10.5).attr("fill", "#2a2e39").text("0.005");

// legend
svg.append("text").attr("x", 219).attr("y", 63).attr("font-size", 13).attr("fill", "#2a2e39").text("X");
svg.append("rect").attr("x", 236).attr("y", 49).attr("width", 40).attr("height", 18).attr("rx", 9).attr("fill", "#e2f1ec");
svg.append("circle").attr("cx", 247).attr("cy", 58).attr("r", 4).attr("fill", "#00695c");
svg.append("path").attr("d", "M268 53a5 5 0 1 0 3 8a4.5 4.5 0 0 1-3-8z").attr("fill", "#43a047");
const legend = svg.append("text").attr("x", 284).attr("y", 63).attr("font-size", 12.9);
[["O", INK], ["0.115 ", TEAL], ["H", INK], ["0.120 ", TEAL], ["L", INK], ["0.110 ", TEAL], ["C", INK], ["0.115 ", TEAL], ["+0.005 (+4.55%)", TEAL]]
  .forEach(d => legend.append("tspan").attr("fill", d[1]).attr("xml:space", "preserve").text(d[0]));

// floating wave toolbar
svg.append("rect").attr("x", 540).attr("y", 100).attr("width", 100).attr("height", 38).attr("rx", 6).attr("fill", "#fff")
  .style("filter", "drop-shadow(0 1px 2px rgba(0,0,0,.2))");
svg.append("path").attr("d", "M549 113h2v2h-2zM553 113h2v2h-2zM549 118h2v2h-2zM553 118h2v2h-2zM549 123h2v2h-2zM553 123h2v2h-2z").attr("fill", "#c9c9c9");
[[572, ["1", "5"]], [610, ["A", "C"]]].forEach(d => {
  const g = svg.append("g").attr("transform", `translate(${d[0]},0)`);
  g.append("path").attr("d", "M0 125L7 117L14 125L21 117").attr("fill", "none").attr("stroke", INK);
  [[0,125],[7,117],[14,125],[21,117]].forEach(c => g.append("circle").attr("cx", c[0]).attr("cy", c[1]).attr("r", 2).attr("fill", "#fff").attr("stroke", INK));
  g.append("text").attr("x", 7).attr("y", 112).attr("text-anchor", "middle").attr("font-size", 8).attr("font-weight", 700).attr("font-family", "Liberation Sans").text(d[1][0]);
  g.append("text").attr("x", 22).attr("y", 112).attr("text-anchor", "middle").attr("font-size", 8).attr("font-weight", 700).attr("font-family", "Liberation Sans").text(d[1][1]);
});

// top bar
svg.append("circle").attr("cx", 25).attr("cy", 19).attr("r", 13).attr("fill", "#0c0c0c");
svg.append("text").attr("x", 25).attr("y", 24).attr("text-anchor", "middle").attr("font-size", 14).attr("font-weight", 700).attr("fill", "#2bd32b").text("M");
svg.append("path").attr("d", "M16 11h-2v14h2M34 11h2v14h-2").attr("fill", "none").attr("stroke", "#e53935").attr("stroke-width", 1.4);
const badge = (cx, cy, w, label, fs) => {
  svg.append("rect").attr("x", cx - w / 2).attr("y", cy - 9).attr("width", w).attr("height", 18).attr("rx", 9).attr("fill", "#f23645");
  svg.append("text").attr("x", cx).attr("y", cy + 4).attr("text-anchor", "middle").attr("font-size", fs).attr("fill", "#fff").text(label);
};
badge(39, 9, 20, "11", 11);
svg.append("rect").attr("x", 56).attr("y", 5).attr("width", 128).attr("height", 28).attr("rx", 14).attr("fill", "#ebebeb");
svg.append("text").attr("x", 68).attr("y", 24).attr("font-size", 14).attr("font-weight", 700).attr("fill", INK).text("YONGTAI");
svg.append("circle").attr("cx", 168).attr("cy", 19).attr("r", 12).attr("fill", "#fff");
svg.append("path").attr("d", "M161 15l3-3h8l3 3-7 9zM165 17h6l-3 3z").attr("fill", "none").attr("stroke", INK).attr("stroke-width", 1.3);
const icon = (cx, cy, d, w) => svg.append("g").attr("transform", `translate(${cx},${cy})`)
  .append("path").attr("d", d).attr("fill", "none").attr("stroke", INK).attr("stroke-width", w || 1.1).attr("stroke-linecap", "round").attr("stroke-linejoin", "round");
const CIRC = r => `M${-r} 0a${r} ${r} 0 1 0 ${2 * r} 0a${r} ${r} 0 1 0 ${-2 * r} 0z`;
icon(207, 19, CIRC(9) + "M-5 0H5M0 -5V5");
svg.append("rect").attr("x", 469).attr("y", 2).attr("width", 18).attr("height", 34).attr("rx", 4).attr("fill", "#ebebeb");
svg.append("g").selectAll("text").data(frames).enter().append("text")
  .attr("x", (d, k) => frameX[k]).attr("y", 24).attr("text-anchor", "middle").attr("font-size", 13).attr("fill", "#2a2e39").text(d => d);
const vrule = (vx, y1, y2) => svg.append("line").attr("x1", vx).attr("x2", vx).attr("y1", y1).attr("y2", y2).attr("stroke", "#e5e5e5");
[230, 543, 589, 698, 783].forEach(v => vrule(v, 9, 33));
icon(526, 19, "M-4 -2l4 3 4-3");
icon(567, 19, "M-7 -6h4v11h-4zM-5 -10v4M-5 5v4M3 -4h4v7h-4zM5 -9v5M5 3v6");
icon(613, 20, "M-10 10V4h5v6M-5 10V0h5v10M0 10V-2h5V10M-10 10H5M-11 -3l5-5 5 3 8-6");
icon(644, 19, "M-4 -2l4 3 4-3");
icon(675, 19, "M-9 -9h7v7h-7zM2 -9h7v7h-7zM-9 2h7v7h-7zM2 2h7v7h-7z");
icon(722, 19, CIRC(9) + "M0 -5V0H-4M-9 -10l-2 2M9 -10l2 2M6 9h8M10 5v8");
icon(760, 19, "M-2 -6l-6 6 6 6zM6 -6l-6 6 6 6z");
svg.append("path").attr("transform", "translate(806,20)").attr("d", "M-8 -2h11a5 5 0 0 1 3 7M-8 -2l4-4M-8 -2l4 4").attr("fill", "none").attr("stroke", "#9a9ca3");
svg.append("path").attr("transform", "translate(844,20)").attr("d", "M8 -2h-11a5 5 0 0 0 -3 7M8 -2l-4-4M8 -2l-4 4").attr("fill", "none").attr("stroke", "#9a9ca3");
icon(883, 19, "M-9 -9h18v18h-18z");
svg.append("text").attr("x", 907).attr("y", 24).attr("font-size", 13).attr("fill", "#2a2e39").text("INtra");
svg.append("rect").attr("x", 934).attr("y", 4).attr("width", 6).attr("height", 30).attr("fill", "#fff");
svg.append("rect").attr("x", 938).attr("y", 5.5).attr("width", 59).attr("height", 27).attr("rx", 13.5).attr("fill", "#fff").attr("stroke", "#e6e6e6");
svg.append("text").attr("x", 967.5).attr("y", 24).attr("text-anchor", "middle").attr("font-size", 13.5).attr("fill", "#2a2e39").text("Trade");
svg.append("rect").attr("x", 1006).attr("y", 5).attr("width", 69).attr("height", 28).attr("rx", 14).attr("fill", "#2e2e2e");
svg.append("text").attr("x", 1040.5).attr("y", 24).attr("text-anchor", "middle").attr("font-size", 13.5).attr("fill", "#fff").text("Publish");

// tooltip
svg.append("path").attr("d", "M20 42l6-4 6 4z").attr("fill", "#2e2e2e");
svg.append("rect").attr("x", 10).attr("y", 42).attr("width", 211).attr("height", 42).attr("rx", 3).attr("fill", "#2e2e2e");
svg.append("text").attr("x", 18).attr("y", 59).attr("font-size", 12.3).attr("fill", "#e5e5e5").text("Logged in as MahersahamOfficial");
svg.append("text").attr("x", 18).attr("y", 77).attr("font-size", 12.3).attr("fill", "#e5e5e5").text("Active layout: INtraswing 1D");

// left toolbar
icon(26, 105, "M-8 8L8 -8" + "M-6 8a2 2 0 1 0 -4 0a2 2 0 1 0 4 0M10 -8a2 2 0 1 0 -4 0a2 2 0 1 0 4 0");
icon(26, 143, "M-12 -8H8M-12 -3H12M-12 2H12M-8 7H12M12 -8a2 2 0 1 0 -4 0a2 2 0 1 0 4 0M-8 7a2 2 0 1 0 -4 0a2 2 0 1 0 4 0");
icon(26, 181, "M-8 9L-4 -8L9 -8L1 0L-8 9M-4 -8L1 0L11 9L9 -8" + "M-6 -8a2 2 0 1 0 4 0a2 2 0 1 0 -4 0M7 -8a2 2 0 1 0 4 0a2 2 0 1 0 -4 0M-10 9a2 2 0 1 0 4 0a2 2 0 1 0 -4 0M9 9a2 2 0 1 0 4 0a2 2 0 1 0 -4 0");
icon(26, 219, "M-7 -9H9M-7 -1H9M-7 7H9M-9 -9a2 2 0 1 0 4 0a2 2 0 1 0 -4 0M-9 7a2 2 0 1 0 4 0a2 2 0 1 0 -4 0M0 -6V-2H4");
icon(26, 257, "M-11 10H2C3 3 0 -2 -3 -2C-6 -2 -11 4 -11 10zM1 -3L5 -7L9 -4L11 -8");
icon(26, 295, "M-8 -8V-9H8V-8M0 -9V9M-3 9H3");
icon(26, 333, CIRC(10) + "M-4 3a5 5 0 0 0 8 0M-3 -2.5v.5M3 -2.5v.5");
svg.append("rect").attr("x", 8).attr("y", 358).attr("width", 36).attr("height", 1).attr("fill", "#e5e5e5");
icon(26, 383, "M-11 5L5 -11L11 -5L-5 11zM-7 1l3 3M-3 -3l3 3M1 -7l3 3");
icon(25, 421, CIRC(8) + "M-4 0H4M0 -4V4M6 6L10 10");
svg.append("rect").attr("x", 8).attr("y", 447).attr("width", 36).attr("height", 1).attr("fill", "#e5e5e5");
icon(26, 473, "M-8 9V-2a8 8 0 0 1 16 0V9H3V-2a3 3 0 0 0 -6 0V9zM-8 5H-3M3 5H8");
icon(26, 511, "M-10 8L-10 3L3 -9L7 -5L-5 8zM-5 8M2 2h9v7h-9zM4 2V0a2.5 2.5 0 0 1 5 0V2");
icon(26, 549, "M-7 -1H8V9H-7zM-4 -1V-6a4 4 0 0 1 7 -2");
icon(26, 587, "M-10 0C-5 -9 5 -9 10 0C5 9 -5 9 -10 0z" + CIRC(3.5));
icon(26, 625, "M-2 -5L4 -10A4 4 0 0 1 10 -4L5 1M2 5L-4 10A4 4 0 0 1 -10 4L-5 -1M-3 3L3 -3");
svg.append("rect").attr("x", 8).attr("y", 650).attr("width", 36).attr("height", 1).attr("fill", "#e5e5e5");
icon(26, 675, "M-8 -6H8M-3 -6V-9H3V-6M-6 -6L-5 10H5L6 -6");
svg.append("rect").attr("x", 9).attr("y", 1025).attr("width", 34).attr("height", 33).attr("rx", 4).attr("fill", "#2e2e2e");
svg.append("path").attr("transform", "translate(26,1041)").attr("d", "M0 -9L2.6 -3L9 -2.6L4 1.6L5.6 8L0 4.5L-5.6 8L-4 1.6L-9 -2.6L-2.6 -3z").attr("fill", "none").attr("stroke", "#fff").attr("stroke-width", 1.2);

// right toolbar
icon(1058, 66, "M-9 -10H9V11L0 7L-9 11zM-6 -5H6M-6 -1H6M-6 3H6");
icon(1058, 111, CIRC(10) + "M0 -6V1H-4M-10 -12l-3 2M10 -12l3 2");
icon(1058, 157, "M0 -9L11 -3L0 3L-11 -3zM-11 2L0 8L11 2");
icon(1058, 204, "M-11 -9H11V8H-4L-9 12V8H-11z");
badge(1068, 193, 15, "1", 11);
icon(1058, 773, CIRC(13) + CIRC(7) + CIRC(2) + "M1 -1L7 -7");
icon(1058, 815, "M-12 9H12L6 -1L0 4L-6 -1zM-7 -1L0 -9L7 -1");
icon(1058, 860, "M-11 -7H11V11H-11zM-7 -10h3v5h-3zM4 -10h3v5h-3z");
icon(1050, 914, "M-3 3a2 2 0 1 0 4 0a2 2 0 1 0 -4 0M-4 -4A7 7 0 0 1 7 6M-4 -10A13 13 0 0 1 13 6");
badge(1062, 896, 30, "99+", 11.5);
icon(1058, 955, "M-11 6C-8 5 -8 0 -8 -3C-8 -9 -4 -12 0 -12C4 -12 8 -9 8 -3C8 0 8 5 11 6a1.5 1.5 0 0 1 0 3H-11a1.5 1.5 0 0 1 0 -3zM-3 10a3 3 0 0 0 6 0");
badge(1065, 942, 24, "60", 11.5);
svg.append("circle").attr("cx", 1058).attr("cy", 998).attr("r", 17).attr("fill", "#2e2e2e");
svg.append("g").selectAll("rect").data(d3.cross([-8,-2,4],[-8,-2,4])).enter().append("rect")
  .attr("x", d => 1058 + d[0]).attr("y", d => 998 + d[1]).attr("width", 4.5).attr("height", 4.5).attr("rx", .8).attr("fill", "#fff");
svg.append("rect").attr("x", 1041).attr("y", 1027).attr("width", 34).attr("height", 1).attr("fill", "#e5e5e5");
icon(1058, 1056, CIRC(13));
svg.append("text").attr("x", 1058).attr("y", 1062).attr("text-anchor", "middle").attr("font-size", 17).attr("fill", INK).text("?");

// bottom bar
svg.append("g").selectAll("text").data(ranges).enter().append("text")
  .attr("x", (d, k) => rangeX[k]).attr("y", 1066).attr("text-anchor", "middle").attr("font-size", 13).attr("fill", "#2a2e39").text(d => d);
vrule(347, 1050, 1072);
icon(371, 1061, "M-9 -7H9V9H-9zM-9 -3H9M-5 -10V-6M5 -10V-6M-5 3H4M1 0L4 3L1 6");
svg.append("text").attr("x", 974).attr("y", 1066).attr("text-anchor", "end").attr("font-size", 13.5).attr("fill", "#2a2e39").text("12:32:51 UTC+8");
vrule(984, 1050, 1072);
svg.append("text").attr("x", 1008).attr("y", 1066).attr("text-anchor", "middle").attr("font-size", 13).attr("fill", "#2a2e39").text("ADJ");
icon(997, 1027, "M-7 0L-3.5 -6H3.5L7 0L3.5 6H-3.5z" + CIRC(2.2));
</script>
</body>
</html>
